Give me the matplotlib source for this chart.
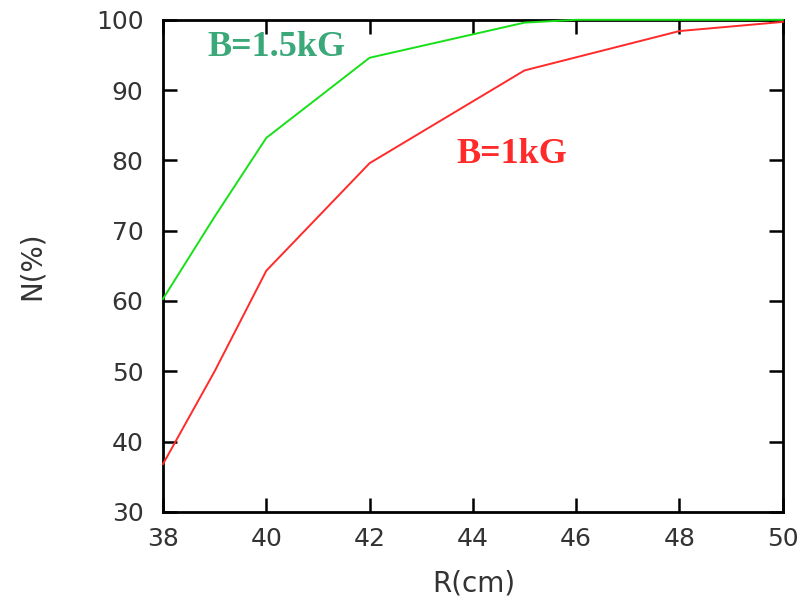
# Field strength vs radius curves

import matplotlib
matplotlib.use('Agg')
import matplotlib.pyplot as plt

# data
r_green = [38, 39, 40, 42, 45, 46, 48, 50]
n_green = [60.3, 72.0, 83.2, 94.6, 99.6, 100.0, 100.0, 100.0]

r_red = [38, 39, 40, 42, 45, 48, 50]
n_red = [36.8, 50.0, 64.3, 79.6, 92.8, 98.4, 99.7]

x_ticks = [38, 40, 42, 44, 46, 48, 50]
y_ticks = [30, 40, 50, 60, 70, 80, 90, 100]

fig = plt.figure(figsize=(8.07, 6.0), dpi=100)
ax = fig.add_axes([0.202, 0.147, 0.768, 0.820])

ax.plot(r_green, n_green, color='#18e018', lw=1.4, clip_on=False)
ax.plot(r_red, n_red, color='#ff2a2a', lw=1.4, clip_on=False)

ax.set_xlim(38, 50)
ax.set_ylim(30, 100)
ax.set_xticks(x_ticks)
ax.set_yticks(y_ticks)

for s in ax.spines.values():
    s.set_linewidth(2.0)
    s.set_zorder(1)

ax.tick_params(direction='in', length=10, width=1.8, top=True, right=True,
               labelsize=18, labelcolor='#333333')
ax.tick_params(axis='x', pad=11)
ax.tick_params(axis='y', pad=14)
for lab in ax.get_xticklabels() + ax.get_yticklabels():
    lab.set_family('DejaVu Sans')

ax.set_xlabel('R(cm)', fontsize=20, color='#333333', family='DejaVu Sans')
ax.set_ylabel('N(%)', fontsize=20, color='#333333', family='DejaVu Sans')
ax.xaxis.set_label_coords(0.5008, -0.118)
ax.yaxis.set_label_coords(-0.190, 0.5)

ax.text(40.19, 96.0, 'B=1.5kG', color='#3aa878', fontsize=26, fontweight='bold',
        family='Liberation Serif', ha='center', va='center')
ax.text(44.75, 80.8, 'B=1kG', color='#ff2a2a', fontsize=26, fontweight='bold',
        family='Liberation Serif', ha='center', va='center')

plt.savefig('out.png', dpi=100)
